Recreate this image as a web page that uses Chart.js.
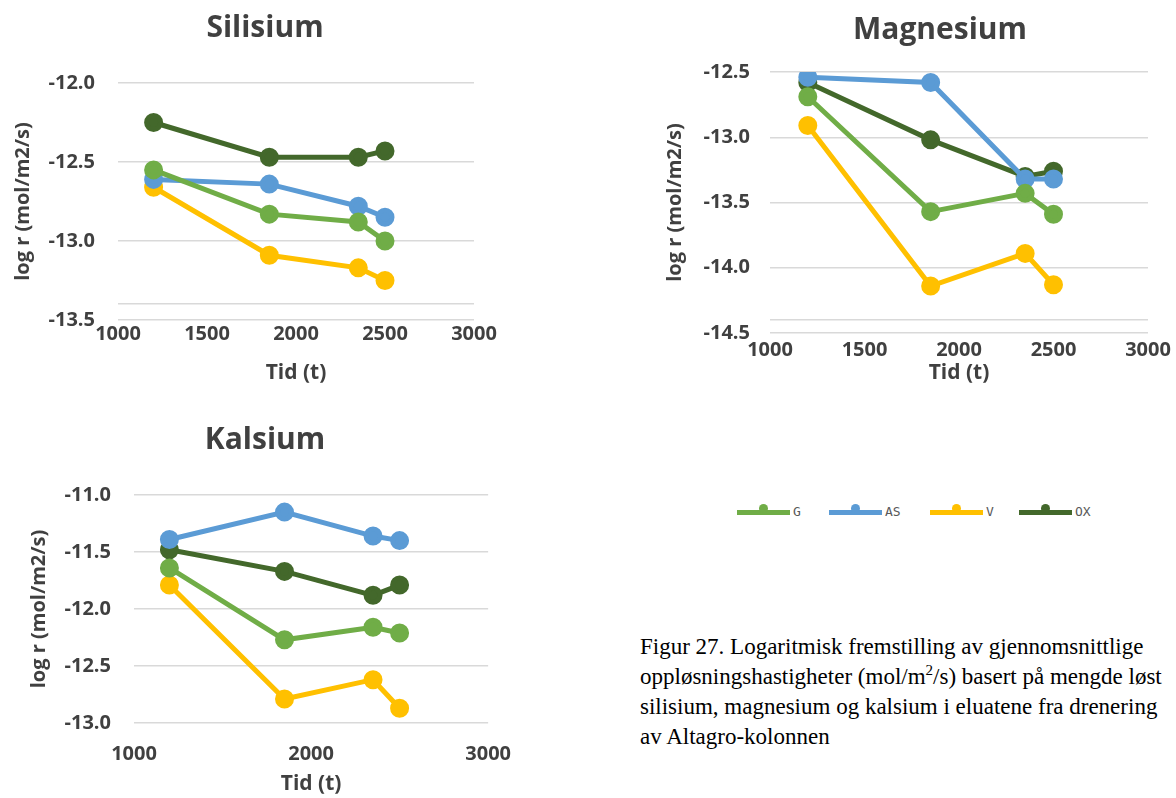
<!DOCTYPE html>
<html>
<head>
<meta charset="utf-8">
<script src="https://cdn.jsdelivr.net/npm/chart.js@4.4.1/dist/chart.umd.min.js"></script>
<style>
  html, body { margin: 0; padding: 0; background: #fff; }
  body { width: 1176px; height: 798px; overflow: hidden; position: relative; font-family: "Open Sans", sans-serif; }
  .boks { position: absolute; }
  #silisium { left: 0; top: 0; width: 530px; height: 398px; }
  #magnesium { left: 655px; top: 0; width: 570px; height: 398px; }
  #kalsium { left: 0; top: 400px; width: 530px; height: 398px; }
  #forklaring { position: absolute; left: 737px; top: 500px; height: 24px; font-size: 13px; color: #595959; }
  .post { position: absolute; top: 0; height: 24px; }
  .strek { position: absolute; top: 10px; width: 53px; height: 5px; }
  .prikk { position: absolute; top: 4px; left: 22px; width: 9px; height: 9px; border-radius: 50%; }
  .navn { position: absolute; left: 56px; top: 4px; font-family: "DejaVu Sans Mono", monospace; }
  #tekst { position: absolute; left: 640px; top: 632px; width: 600px; font-family: "Liberation Serif", serif; font-size: 23px; line-height: 30px; color: #000; white-space: nowrap; }
</style>
</head>
<body>
<div class="boks" id="silisium"><canvas id="c1"></canvas></div>
<div class="boks" id="magnesium"><canvas id="c2"></canvas></div>
<div class="boks" id="kalsium"><canvas id="c3"></canvas></div>
<div id="forklaring"></div>
<div id="tekst">Figur 27. Logaritmisk fremstilling av gjennomsnittlige<br>oppløsningshastigheter (mol/m<sup style="font-size:15px;line-height:0">2</sup>/s) basert på mengde løst<br>silisium, magnesium og kalsium i eluatene fra drenering<br>av Altagro-kolonnen</div>
<script>
// tid i timer
var tid = [1200, 1850, 2350, 2500];
var serier = ["G", "AS", "V", "OX"];
var farger = ["#70AD47", "#5B9BD5", "#FFC000", "#43682B"];

// log r verdier lest av figuren
var siG  = [-12.55, -12.83, -12.88, -13.00];
var siAS = [-12.61, -12.64, -12.78, -12.85];
var siV  = [-12.66, -13.09, -13.17, -13.25];
var siOX = [-12.25, -12.47, -12.47, -12.43];

var mgG  = [-12.69, -13.57, -13.43, -13.59];
var mgAS = [-12.54, -12.58, -13.32, -13.32];
var mgV  = [-12.91, -14.14, -13.89, -14.13];
var mgOX = [-12.58, -13.02, -13.30, -13.26];

var caG  = [-11.64, -12.27, -12.16, -12.21];
var caAS = [-11.39, -11.15, -11.36, -11.40];
var caV  = [-11.79, -12.79, -12.62, -12.87];
var caOX = [-11.48, -11.67, -11.88, -11.79];

var tekstfarge = "#404040";

function lagSett(verdier) {
    var sett = [];
    for (let a = 0; a < serier.length; a++) {
        sett.push({
            label: serier[a],
            data: tid.map((t, i) => ({ x: t, y: verdier[a][i] })),
            borderColor: farger[a],
            backgroundColor: farger[a],
            borderWidth: 5,
            pointRadius: 7,
            pointHoverRadius: 7,
            tension: 0
        });
    }
    return sett;
}

function kartOlusturucu(id, tittel, verdier, o) {
    var ctx = document.getElementById(id).getContext("2d");
    return new Chart(ctx, {
        type: "line",
        data: { datasets: lagSett(verdier) },
        options: {
            responsive: true,
            maintainAspectRatio: false,
            animation: false,
            events: [],
            layout: { padding: 0 },
            plugins: {
                legend: { display: false },
                tooltip: { enabled: false },
                title: {
                    display: true,
                    text: tittel,
                    color: tekstfarge,
                    font: { family: "Open Sans", size: 30, weight: "bold", lineHeight: 1.2 },
                    padding: { top: o.tittelTopp, bottom: o.tittelBunn }
                }
            },
            scales: {
                x: {
                    type: "linear",
                    min: 1000, max: 3000,
                    afterFit: s => { s.height = o.xHoyde; },
                    grid: { display: false, drawTicks: false },
                    border: { display: false },
                    ticks: {
                        stepSize: o.xSteg,
                        padding: o.xPad,
                        maxRotation: 0,
                        color: tekstfarge,
                        font: { family: "Open Sans", size: 20, weight: "bold" },
                        callback: v => String(v)
                    },
                    title: {
                        display: true,
                        text: "Tid (t)",
                        color: tekstfarge,
                        font: { family: "Open Sans", size: 21, weight: "bold", lineHeight: 1.2 },
                        padding: { top: 0, bottom: o.xTittelPad }
                    }
                },
                y: {
                    min: o.yMin, max: o.yMax,
                    afterFit: s => { s.width = o.yBredde; },
                    afterBuildTicks: s => {
                        o.ekstra.forEach(v => s.ticks.push({ value: v }));
                    },
                    border: { display: false },
                    grid: { color: "#D9D9D9", lineWidth: 1.5, drawTicks: false },
                    ticks: {
                        stepSize: 0.5,
                        padding: o.yPad,
                        color: tekstfarge,
                        font: { family: "Open Sans", size: 20, weight: "bold" },
                        callback: v => (Math.abs(v * 2 - Math.round(v * 2)) < 1e-6 ? v.toFixed(1) : "")
                    },
                    title: {
                        display: true,
                        text: "log r (mol/m2/s)",
                        color: tekstfarge,
                        font: { family: "Open Sans", size: 20, weight: "bold", lineHeight: 1.2 },
                        padding: { top: o.yTittelPad, bottom: 0 }
                    }
                },
                hoyre: {
                    position: "right",
                    display: true,
                    afterFit: s => { s.width = o.hoyre; },
                    grid: { display: false },
                    border: { display: false },
                    ticks: { display: false }
                }
            }
        }
    });
}

kartOlusturucu("c1", "Silisium", [siG, siAS, siV, siOX], {
    yMin: -13.5, yMax: -12.0, ekstra: [-13.4], xSteg: 500,
    tittelTopp: 10, tittelBunn: 37, xHoyde: 78, xPad: 2, xTittelPad: 12,
    yBredde: 118, yPad: 23, yTittelPad: 11, hoyre: 56
});
kartOlusturucu("c2", "Magnesium", [mgG, mgAS, mgV, mgOX], {
    yMin: -14.5, yMax: -12.5, ekstra: [-14.4], xSteg: 500,
    tittelTopp: 12, tittelBunn: 24, xHoyde: 65, xPad: 5, xTittelPad: 12,
    yBredde: 115, yPad: 20, yTittelPad: 8, hoyre: 77
});
kartOlusturucu("c3", "Kalsium", [caG, caAS, caV, caOX], {
    yMin: -13.0, yMax: -11.0, ekstra: [], xSteg: 1000,
    tittelTopp: 22, tittelBunn: 37, xHoyde: 75, xPad: 19, xTittelPad: 1,
    yBredde: 134, yPad: 23, yTittelPad: 27, hoyre: 33
});

// forklaring under Magnesium
var forklaring = document.getElementById("forklaring");
var xPos = [0, 92, 193, 282];
for (let a = 0; a < serier.length; a++) {
    var post = document.createElement("div");
    post.className = "post";
    post.style.left = xPos[a] + "px";
    post.innerHTML = `<div class="strek" style="background:${farger[a]}"></div>` +
        `<div class="prikk" style="background:${farger[a]}"></div>` +
        `<div class="navn">${serier[a]}</div>`;
    forklaring.appendChild(post);
}
</script>
</body>
</html>
